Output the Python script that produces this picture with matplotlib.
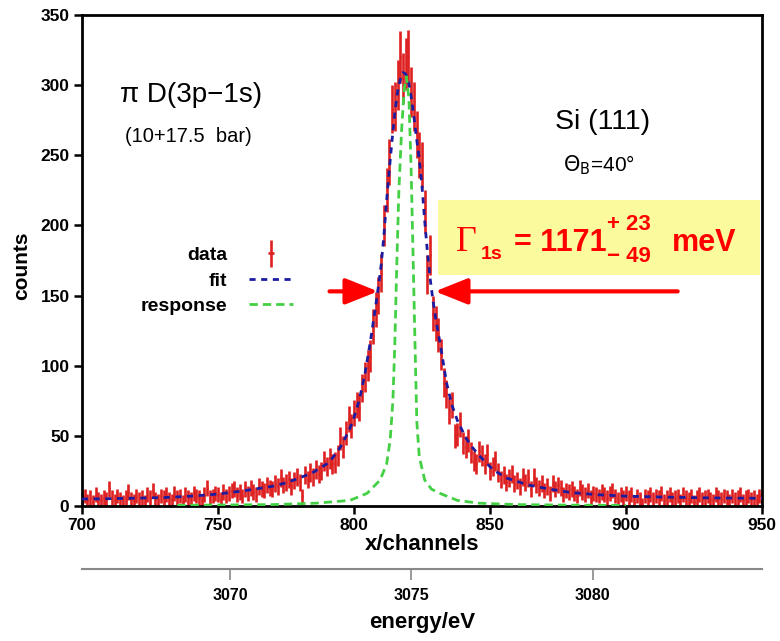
import numpy as np
import matplotlib
matplotlib.use("Agg")
import matplotlib.pyplot as plt
from matplotlib.patches import Rectangle
from matplotlib.legend_handler import HandlerErrorbar

plt.rcParams['font.family'] = ['Liberation Sans', 'DejaVu Sans']

# measured spectrum, one value per channel 700..950
channels = np.arange(700, 951)
counts = np.array([
    5, 7, 4, 6, 3, 8, 5, 4, 6, 5,
    12, 6, 4, 7, 5, 3, 6, 10, 5, 4,
    7, 5, 6, 3, 8, 6, 11, 5, 4, 7,
    6, 8, 5, 4, 9, 6, 7, 3, 8, 6,
    5, 9, 7, 6, 4, 8, 13, 6, 7, 9,
    8, 5, 10, 7, 9, 11, 12, 8, 10, 7,
    12, 9, 13, 10, 8, 14, 12, 11, 15, 13,
    12, 16, 14, 20, 15, 17, 19, 14, 18, 21,
    17, 7, 22, 19, 24, 21, 26, 23, 25, 32,
    28, 34, 30, 31, 36, 48, 42, 52, 62, 57,
    66, 72, 70, 84, 92, 100, 107, 128, 140, 150,
    166, 200, 225, 245, 283, 285, 300, 320, 305, 315,
    321, 295, 285, 265, 250, 243, 210, 165, 179, 137,
    130, 122, 108, 88, 80, 68, 72, 50, 51, 58,
    45, 42, 47, 38, 32, 30, 39, 36, 30, 37,
    25, 28, 32, 24, 19, 22, 17, 20, 23, 16,
    18, 14, 21, 17, 20, 12, 21, 15, 13, 16,
    11, 14, 9, 16, 12, 15, 13, 8, 11, 10,
    12, 9, 7, 13, 10, 8, 11, 6, 9, 8,
    7, 10, 8, 6, 9, 11, 7, 5, 8, 6,
    9, 6, 8, 3, 7, 5, 1, 7, 6, 8,
    5, 7, 6, 9, 4, 6, 8, 5, 6, 7,
    4, 8, 6, 5, 7, 3, 6, 8, 5, 6,
    7, 5, 4, 8, 6, 5, 7, 6, 4, 7,
    5, 6, 8, 4, 6, 7, 5, 6, 4, 7,
    5], dtype=float)
# statistical error incl. subtracted background variance
bg_var = 20
errors = np.sqrt(counts + bg_var)

# fitted line shape
fit_ch = [700, 710, 720, 730, 740, 750, 760, 770, 775, 780,
          785, 790, 792, 795, 798, 800, 802, 804, 806, 808,
          809, 810, 811, 812, 813, 814, 815, 816, 817, 818,
          819, 820, 821, 822, 823, 824, 825, 826, 827, 828,
          829, 830, 832, 834, 836, 838, 841, 843, 846, 851,
          856, 864, 872, 880, 890, 900, 915, 930, 950]
fit_counts = [5.0, 5.2, 5.6, 6.0, 7.0, 8.5, 11, 14, 16.5, 20,
              24, 30, 34, 42, 53, 63, 76, 94, 117, 143,
              157, 172, 193, 218, 240, 261, 280, 295, 304, 309,
              308, 303, 292, 278, 262, 247, 228, 203, 181, 162,
              147, 134, 112, 88, 72, 61, 49, 43, 36, 26,
              20, 15, 12, 9.5, 8, 7, 6.3, 5.8, 5.5]

# crystal response function
resp_ch = [735, 750, 770, 786, 798.5, 804.8, 809.6, 812, 813.3, 814.3,
           815, 815.7, 816.5, 817.5, 818.5, 819.3, 820.2, 821, 821.7, 822.4,
           823.1, 824, 826, 828.5, 831.6, 838, 846, 860, 880, 900]
resp_counts = [0.5, 0.7, 1.0, 2, 4, 9, 18.5, 30, 47, 75,
               115, 170, 225, 268, 298, 306, 290, 240, 180, 118,
               60, 35, 18.5, 12, 9, 4, 2, 1, 0.6, 0.4]

# FWHM markers
half_max = 153
fwhm_left = 808.8
fwhm_right = 829.8

# energy calibration
e_ref = 3075.0
ch_ref = 821.1
disp = 5.0 / 66.65
energy_ticks = [3070, 3075, 3080]

def ch2e(x):
    return e_ref + (np.asarray(x) - ch_ref) * disp

def e2ch(e):
    return ch_ref + (np.asarray(e) - e_ref) / disp

W, H = 780, 641
fig = plt.figure(figsize=(W / 100, H / 100), dpi=100)
ax = fig.add_axes([82 / W, 1 - 506 / H, 680 / W, 491 / H])

red = '#dd2020'
eb = ax.errorbar(channels, counts, yerr=errors, xerr=0.2, fmt='none',
                 ecolor=red, elinewidth=1.9, capsize=0, zorder=2)
fit_line, = ax.plot(fit_ch, fit_counts, color='#1c1ca0', lw=2.0,
                    ls=(0, (2.2, 2.0)), zorder=3)
resp_line, = ax.plot(resp_ch, resp_counts, color='#44d044', lw=2.0,
                     ls=(0, (3.0, 1.8)), zorder=3)

ax.set_xlim(700, 950)
ax.set_ylim(0, 350)
ax.set_xticks(np.arange(700, 951, 50))
ax.set_yticks(np.arange(0, 351, 50))
for s in ax.spines.values():
    s.set_linewidth(2)
ax.tick_params(direction='out', length=6, width=1.8, labelsize=12.5, pad=3)
for lab in ax.get_xticklabels() + ax.get_yticklabels():
    lab.set_fontweight('bold')

ax.set_xlabel('x/channels', fontsize=16, fontweight='bold')
ax.xaxis.set_label_coords(0.5, -0.058)
ax.set_ylabel('counts', fontsize=15, fontweight='bold')
ax.yaxis.set_label_coords(-0.075, 0.49)

# energy axis below
sec = ax.secondary_xaxis(-0.128, functions=(ch2e, e2ch))
sec.set_xticks(energy_ticks)
sec.spines['bottom'].set_color('#888888')
sec.spines['bottom'].set_linewidth(1.5)
sec.tick_params(direction='out', length=8, width=1.2, color='#888888',
                labelsize=11.5, pad=6)
for lab in sec.get_xticklabels():
    lab.set_fontweight('bold')
sec.set_xlabel('energy/eV', fontsize=16, fontweight='bold', labelpad=6)

leg = ax.legend([eb, fit_line, resp_line], ['data', 'fit', 'response'],
                markerfirst=False, frameon=False, loc='upper right',
                bbox_to_anchor=(0.325, 0.548), borderpad=0,
                handlelength=2.3, handletextpad=1.1, labelspacing=0.4,
                prop={'size': 14, 'weight': 'bold'},
                handler_map={eb: HandlerErrorbar(xerr_size=0.15, yerr_size=0.7)})

# annotations
ax.text(0.056, 0.837, 'π D(3p−1s)', transform=ax.transAxes, fontsize=20,
        ha='left', va='center')
ax.text(0.063, 0.752, '(10+17.5  bar)', transform=ax.transAxes, fontsize=14.5,
        ha='left', va='center')
ax.text(0.696, 0.782, 'Si (111)', transform=ax.transAxes, fontsize=20.5,
        ha='left', va='center')
ax.text(0.708, 0.695, r'$\Theta_{\rm B}$=40°', transform=ax.transAxes,
        fontsize=15, ha='left', va='center')

ax.add_patch(Rectangle((0.5235, 0.470), 0.474, 0.153, transform=ax.transAxes,
                       facecolor='#fbfb9e', edgecolor='none', zorder=4))

def ftext(px, py, s, **kw):
    fig.text(px / W, 1 - py / H, s, color='red', va='baseline', ha='left',
             zorder=6, **kw)

ftext(456, 251.5, 'Γ', fontsize=26, family=['Liberation Serif', 'DejaVu Serif'])
ftext(481, 259, '1s', fontsize=14, fontweight='bold')
ftext(514, 251.5, '= 1171', fontsize=22, fontweight='bold')
ftext(607, 230, '+ 23', fontsize=16, fontweight='bold')
ftext(607, 261.5, '− 49', fontsize=16, fontweight='bold')
ftext(672, 251.5, 'meV', fontsize=22, fontweight='bold')

arrow = dict(arrowstyle='-|>,head_length=1.0,head_width=0.4', color='red',
             lw=3, mutation_scale=20, shrinkA=0, shrinkB=0)
ax.annotate('', xy=(fwhm_left, half_max), xytext=(791, half_max),
            arrowprops=arrow, zorder=5)
ax.annotate('', xy=(fwhm_right, half_max), xytext=(919, half_max),
            arrowprops=arrow, zorder=5)

fig.savefig('out.png', dpi=100)
